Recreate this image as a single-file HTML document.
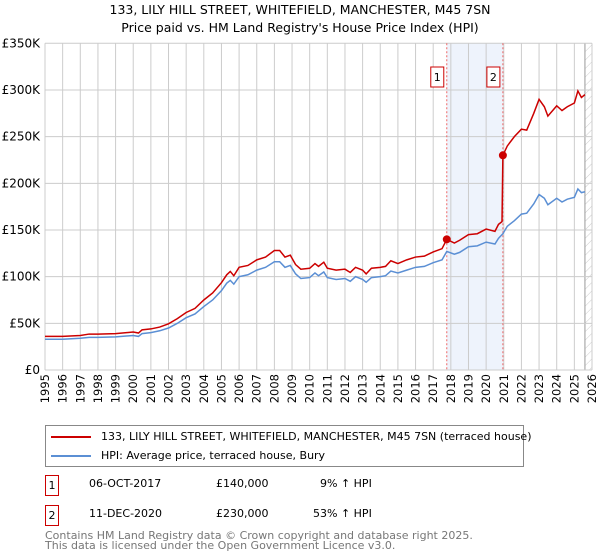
<!DOCTYPE html>
<html><head><meta charset="utf-8"><style>
body{margin:0;background:#fff;font-family:"Liberation Sans","DejaVu Sans",sans-serif;}
#wrap{position:relative;width:600px;height:560px;overflow:hidden;}
</style></head><body>
<div id="wrap">
<svg id="chart" width="600" height="560" font-family="DejaVu Sans, Liberation Sans, sans-serif">
<defs><pattern id="hatch" width="6" height="6" patternUnits="userSpaceOnUse" patternTransform="rotate(45)"><line x1="0" y1="0" x2="0" y2="6" stroke="#ccc" stroke-width="1"/></pattern></defs>
<text x="300" y="14" text-anchor="middle" font-size="12.5">133, LILY HILL STREET, WHITEFIELD, MANCHESTER, M45 7SN</text>
<text x="300" y="32" text-anchor="middle" font-size="12.5">Price paid vs. HM Land Registry's House Price Index (HPI)</text>
<g id="grid"></g><g id="marks"></g><g id="axes"></g>
</svg>
<div style="position:absolute;left:45px;top:425px;width:477px;height:40px;border:1px solid #888;font-size:11px;font-family:'DejaVu Sans','Liberation Sans',sans-serif;">
 <div style="position:absolute;left:5px;top:4px;white-space:nowrap;"><span style="display:inline-block;width:40px;height:2px;background:#cc0000;vertical-align:middle;margin-right:10px;"></span>133, LILY HILL STREET, WHITEFIELD, MANCHESTER, M45 7SN (terraced house)</div>
 <div style="position:absolute;left:5px;top:23px;white-space:nowrap;"><span style="display:inline-block;width:40px;height:2px;background:#5b8fd4;vertical-align:middle;margin-right:10px;"></span>HPI: Average price, terraced house, Bury</div>
</div>
<div style="font-size:11px;font-family:'DejaVu Sans','Liberation Sans',sans-serif;">
 <div style="position:absolute;left:45px;top:475px;width:12px;height:19px;border:1px solid #c00;text-align:center;line-height:19px;">1</div>
 <div style="position:absolute;left:89px;top:477px;">06-OCT-2017</div>
 <div style="position:absolute;left:216px;top:477px;">£140,000</div>
 <div style="position:absolute;left:320px;top:477px;">9% ↑ HPI</div>
 <div style="position:absolute;left:45px;top:505px;width:12px;height:19px;border:1px solid #c00;text-align:center;line-height:19px;">2</div>
 <div style="position:absolute;left:89px;top:507px;">11-DEC-2020</div>
 <div style="position:absolute;left:216px;top:507px;">£230,000</div>
 <div style="position:absolute;left:313px;top:507px;">53% ↑ HPI</div>
</div>
<div style="position:absolute;left:45px;top:531px;font-size:11px;line-height:10px;color:#777;font-family:'DejaVu Sans','Liberation Sans',sans-serif;">Contains HM Land Registry data © Crown copyright and database right 2025.<br>This data is licensed under the Open Government Licence v3.0.</div>
</div>
<script>
const years=[1995,1996,1997,1997.5,1998,1999,2000,2000.3,2000.5,2001,2001.5,2002,2002.5,2003,2003.5,2004,2004.5,2005,2005.3,2005.5,2005.7,2006,2006.5,2007,2007.5,2008,2008.3,2008.6,2008.9,2009.2,2009.5,2010,2010.3,2010.5,2010.8,2011,2011.5,2012,2012.3,2012.6,2013,2013.2,2013.5,2014,2014.3,2014.6,2015,2015.5,2016,2016.5,2017,2017.5,2017.77,2018.2,2018.5,2019,2019.5,2020,2020.5,2020.7,2020.9,2020.95,2021.2,2021.6,2022,2022.3,2022.7,2023,2023.3,2023.5,2024,2024.3,2024.6,2025,2025.2,2025.4,2025.6];
const hpi=[33,33,34,35,35,35.5,37,36,39,40,42,45,50,56,60,68,75,85,93,96,92,100,102,107,110,116,116,110,112,103,98,99,104,101,105,99,97,98,95,100,97,94,99,100,101,106,104,107,110,111,115,118,127,124,126,132,133,137,135,141,145,146,154,160,167,168,178,188,184,177,184,180,183,185,194,190,191];
const price=[36,36,37,38.5,38.5,39,40.7,39.6,43,44,46,49.5,55,61.6,66,75,82.5,93.5,102,105.6,101,110,112,118,121,128,128,121,123,113,108,109,114,111,115.5,109,107,108,104.5,110,107,103,109,110,111,117,114,118,121,122,126.5,130,140,136,139,145,146,151,148.5,156,159,230,240,250,258,257,275,290,282,272,283,278,282,286,299,292,295];
const sales=[{n:"1",t:2017.77,v:140},{n:"2",t:2020.95,v:230}];
const yTicks=[0,50,100,150,200,250,300,350];
const xTicks=[];for(let y=1995;y<=2026;y++)xTicks.push(y);
const X0=45,X1=592,Y0=370,Y1=43.3;
const sx=t=>X0+(t-1995)/31*(X1-X0);
const sy=v=>Y0-v/350*(Y0-Y1);
const NS="http://www.w3.org/2000/svg";
function mk(tag,attrs,parent){const e=document.createElementNS(NS,tag);for(const k in attrs)e.setAttribute(k,attrs[k]);parent.appendChild(e);return e;}
const grid=document.getElementById('grid'),marks=document.getElementById('marks'),axes=document.getElementById('axes');
const sh=mk('rect',{x:sx(sales[0].t),y:Y1,width:sx(sales[1].t)-sx(sales[0].t),height:Y0-Y1,fill:'#eef3fc'},grid);


const ht=mk('rect',{x:sx(2025.6),y:Y1,width:X1-sx(2025.6),height:Y0-Y1,fill:'url(#hatch)'},grid);


mk('line',{x1:sx(2025.6),x2:sx(2025.6),y1:Y1,y2:Y0,stroke:'#999'},grid);
xTicks.forEach(y=>{
 mk('line',{x1:sx(y),x2:sx(y),y1:Y1,y2:Y0,stroke:'#ccc','stroke-width':1},grid);
 const t=mk('text',{x:0,y:0,'font-size':11.5,'text-anchor':'end',transform:`translate(${sx(y)+4},${Y0+4}) rotate(-90)`},axes);
 t.textContent=y;
 
 
});
yTicks.forEach(v=>{
 mk('line',{x1:X0,x2:X1,y1:sy(v),y2:sy(v),stroke:'#ccc','stroke-width':1},grid);
 const t=mk('text',{x:X0-5,y:sy(v)+4,'font-size':12,'text-anchor':'end'},axes);
 t.textContent=v===0?'£0':'£'+v+'K';
 
 
});
sales.forEach(s=>{
 mk('line',{x1:sx(s.t),x2:sx(s.t),y1:Y1,y2:Y0,stroke:'#e66','stroke-width':1,'stroke-dasharray':'2,2'},grid);
});
const hl=mk('polyline',{points:years.map((t,i)=>sx(t)+','+sy(hpi[i])).join(' '),fill:'none',stroke:'#5b8fd4','stroke-width':1.5},marks);


const pl=mk('polyline',{points:years.map((t,i)=>sx(t)+','+sy(price[i])).join(' '),fill:'none',stroke:'#cc0000','stroke-width':1.5},marks);


sales.forEach(s=>{
 const c=mk('circle',{cx:sx(s.t),cy:sy(s.v),r:4,fill:'#cc0000'},marks);
 
 
 const g=mk('g',{},marks);
 
 
 mk('rect',{x:sx(s.t)-16,y:67,width:13,height:20,fill:'#fff',stroke:'#c00'},g);
 const t=mk('text',{x:sx(s.t)-9.5,y:81,'font-size':11,'text-anchor':'middle'},g);t.textContent=s.n;
});
</script>
</body></html>
